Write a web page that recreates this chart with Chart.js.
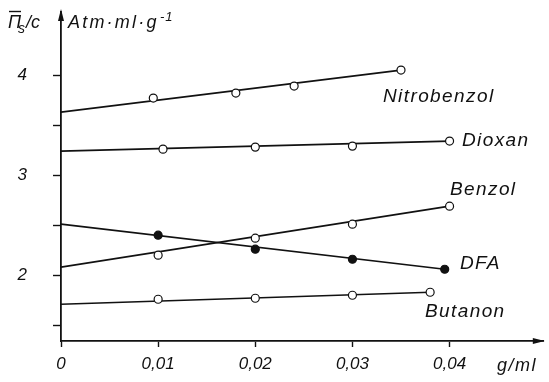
<!DOCTYPE html>
<html>
<head>
<meta charset="utf-8">
<script src="https://cdn.jsdelivr.net/npm/chart.js@4/dist/chart.umd.min.js"></script>
<style>
    html, body { margin: 0; padding: 0; background: #fff; }
    #wrap { width: 549px; height: 382px; }
</style>
</head>
<body>
<div id="wrap"><canvas id="osmChart" width="549" height="382"></canvas></div>
<script>
// concentration ticks (g/ml) and reduced osmotic pressure ticks
const xTickValues = [0, 0.01, 0.02, 0.03, 0.04];
const yTickValues = [1.5, 2, 2.5, 3, 3.5, 4];

// measured points per solvent
const nitrobenzolX = [0.0095, 0.018, 0.024, 0.035];
const nitrobenzolY = [3.77, 3.82, 3.89, 4.05];
const dioxanX = [0.0105, 0.02, 0.03, 0.04];
const dioxanY = [3.26, 3.28, 3.29, 3.34];
const benzolX = [0.01, 0.02, 0.03, 0.04];
const benzolY = [2.20, 2.37, 2.51, 2.69];
const dfaX = [0.01, 0.02, 0.03, 0.0395];
const dfaY = [2.40, 2.26, 2.16, 2.06];
const butanonX = [0.01, 0.02, 0.03, 0.038];
const butanonY = [1.76, 1.77, 1.80, 1.83];

// straight lines: value at c = 0 and at the last measured concentration
const solventNames = ['Nitrobenzol', 'Dioxan', 'Benzol', 'DFA', 'Butanon'];
const lineStart = [3.63, 3.24, 2.08, 2.51, 1.71];
const lineEnd = [4.05, 3.34, 2.69, 2.06, 1.83];

const seriesX = [nitrobenzolX, dioxanX, benzolX, dfaX, butanonX];
const seriesY = [nitrobenzolY, dioxanY, benzolY, dfaY, butanonY];
const filled = [false, false, false, true, false];

const FONT = '"Liberation Sans", Arial, sans-serif';

const toPoints = (xs, ys) => xs.map((x, i) => ({ x: x, y: ys[i] }));

const datasets = [];
solventNames.forEach((name, i) => {
    const xs = seriesX[i];
    datasets.push({
        type: 'line',
        label: name + ' fit',
        data: [{ x: 0, y: lineStart[i] }, { x: xs[xs.length - 1], y: lineEnd[i] }],
        borderColor: '#111',
        borderWidth: 1.7,
        pointRadius: 0,
        fill: false,
        order: 2
    });
    datasets.push({
        type: 'scatter',
        label: name,
        data: toPoints(xs, seriesY[i]),
        pointRadius: 4,
        pointBorderWidth: 1.2,
        pointBorderColor: '#111',
        pointBackgroundColor: filled[i] ? '#111' : '#fff',
        order: 1
    });
});

// keep the plot area exactly where the axes should sit
const fixBox = size => scale => {
    if (scale.isHorizontal()) scale.height = size; else scale.width = size;
    scale.paddingTop = 0;
    scale.paddingBottom = 0;
    scale.paddingLeft = 0;
    scale.paddingRight = 0;
};

// axis arrows, axis titles and the solvent names
const annotations = {
    id: 'annotations',
    afterDraw(chart) {
        const ctx = chart.ctx;
        const area = chart.chartArea;
        ctx.save();
        ctx.fillStyle = '#111';
        ctx.strokeStyle = '#111';

        // y arrow
        ctx.beginPath();
        ctx.moveTo(area.left, area.top - 3);
        ctx.lineTo(area.left - 3, area.top + 9);
        ctx.lineTo(area.left + 3, area.top + 9);
        ctx.closePath();
        ctx.fill();
        // x arrow
        ctx.beginPath();
        ctx.moveTo(area.right + 1, area.bottom);
        ctx.lineTo(area.right - 11, area.bottom - 3);
        ctx.lineTo(area.right - 11, area.bottom + 3);
        ctx.closePath();
        ctx.fill();

        ctx.textBaseline = 'alphabetic';
        ctx.textAlign = 'left';

        // Π̄s/c
        ctx.font = 'italic 18px ' + FONT;
        ctx.fillText('Π', 8, 28);
        ctx.lineWidth = 1.4;
        ctx.beginPath();
        ctx.moveTo(9, 11.5);
        ctx.lineTo(21, 11.5);
        ctx.stroke();
        ctx.font = 'italic 14px ' + FONT;
        ctx.fillText('s', 18, 33);
        ctx.font = 'italic 18px ' + FONT;
        ctx.fillText('/c', 26, 28);

        // Atm·ml·g⁻¹
        ctx.letterSpacing = '2.2px';
        ctx.fillText('Atm·ml·g', 68, 28);
        ctx.letterSpacing = '1px';
        ctx.font = 'italic 13px ' + FONT;
        ctx.fillText('-1', 160, 21);

        // unit of the concentration axis
        ctx.letterSpacing = '1.5px';
        ctx.font = 'italic 18px ' + FONT;
        ctx.textBaseline = 'middle';
        ctx.fillText('g/ml', 497, 366);

        // solvent names
        const namePos = [[383, 97], [462, 141], [450, 190], [460, 264], [425, 312]];
        ctx.font = 'italic 19px ' + FONT;
        ctx.letterSpacing = '1.4px';
        solventNames.forEach((name, i) => {
            ctx.fillText(name, namePos[i][0], namePos[i][1]);
        });
        ctx.restore();
    }
};

new Chart(document.getElementById('osmChart'), {
    type: 'scatter',
    data: { datasets: datasets },
    options: {
        responsive: false,
        animation: false,
        events: [],
        layout: { padding: { top: 12, right: 2, left: 0, bottom: 0 } },
        plugins: {
            legend: { display: false },
            tooltip: { enabled: false }
        },
        scales: {
            x: {
                type: 'linear',
                min: 0,
                max: 0.0497,
                afterBuildTicks: scale => {
                    scale.ticks = xTickValues.map(v => ({ value: v }));
                },
                afterFit: fixBox(41),
                grid: {
                    drawOnChartArea: false,
                    drawTicks: true,
                    tickLength: 6,
                    tickWidth: 1.4,
                    tickColor: '#111'
                },
                border: { display: true, color: '#111', width: 1.8 },
                ticks: {
                    padding: 7,
                    color: '#111',
                    font: { family: FONT, size: 17, style: 'italic' },
                    maxRotation: 0,
                    callback: v => v === 0 ? '0' : v.toFixed(2).replace('.', ',')
                }
            },
            y: {
                type: 'linear',
                min: 1.343,
                max: 4.63,
                afterBuildTicks: scale => {
                    scale.ticks = yTickValues.map(v => ({ value: v }));
                },
                afterFit: fixBox(61),
                grid: {
                    drawOnChartArea: false,
                    drawTicks: true,
                    tickLength: 8,
                    tickWidth: 1.4,
                    tickColor: '#111'
                },
                border: { display: true, color: '#111', width: 1.8 },
                ticks: {
                    padding: 26,
                    color: '#111',
                    font: { family: FONT, size: 17, style: 'italic' },
                    callback: v => Number.isInteger(v) ? String(v) : ''
                }
            }
        }
    },
    plugins: [annotations]
});
</script>
</body>
</html>
